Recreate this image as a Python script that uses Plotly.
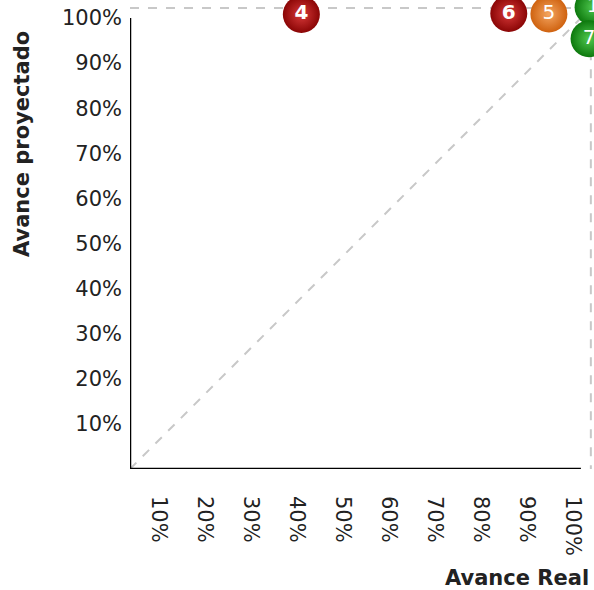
import plotly.graph_objects as go

# Project progress: real vs projected (%)
labels = ["4", "6", "5", "1", "7"]
avance_real = [38.0, 84.0, 92.9, 102.7, 101.8]
avance_proyectado = [100.8, 101.0, 100.9, 102.4, 95.4]
fill_colors = ["#8a0505", "#8a0505", "#cf620f", "#0d780d", "#0d780d"]
glow_colors = ["#d83a3a", "#d83a3a", "#f4a561", "#4fc84f", "#4fc84f"]
label_weights = ["bold", "bold", "normal", "normal", "normal"]

tick_vals = [10, 20, 30, 40, 50, 60, 70, 80, 90, 100]
tick_text = ["10%", "20%", "30%", "40%", "50%", "60%", "70%", "80%", "90%", "100%"]

frame_top = 102.2          # dashed frame at the top/right of the plot
x_range = [0, 102.9]
y_range = [0, 104.0]
font = "DejaVu Sans, Verdana, sans-serif"
grey = "#c8c8c8"

fig = go.Figure()

# reference diagonal y = x and dashed frame on top/right
fig.add_trace(go.Scatter(x=[0, frame_top], y=[0, frame_top], mode="lines",
                         line=dict(color=grey, width=2, dash="dash"),
                         hoverinfo="skip", showlegend=False))
fig.add_trace(go.Scatter(x=[0, frame_top, frame_top], y=[frame_top, frame_top, 0], mode="lines",
                         line=dict(color=grey, width=2, dash="dash"),
                         hoverinfo="skip", showlegend=False))

# black axis lines up to 100%
fig.add_trace(go.Scatter(x=[0, 0], y=[0, 100], mode="lines",
                         line=dict(color="#000000", width=2.5),
                         hoverinfo="skip", showlegend=False, cliponaxis=False))
fig.add_trace(go.Scatter(x=[0, 100], y=[0, 0], mode="lines",
                         line=dict(color="#000000", width=2.5),
                         hoverinfo="skip", showlegend=False, cliponaxis=False))

fig.add_trace(go.Scatter(
    x=avance_real, y=avance_proyectado, mode="markers+text",
    text=labels, textposition="middle center",
    textfont=dict(family=font, size=20, color="white", weight=label_weights),
    marker=dict(size=37, color=fill_colors, line=dict(width=0),
                gradient=dict(type="radial", color=glow_colors)),
    cliponaxis=False, showlegend=False))

# invisible trace carrying the x tick label axis
fig.add_trace(go.Scatter(x=[50], y=[50], xaxis="x2", mode="markers",
                         marker=dict(opacity=0), hoverinfo="skip", showlegend=False))

fig.update_layout(
    width=594, height=590,
    margin=dict(l=130, r=0, t=0, b=121),
    plot_bgcolor="white", paper_bgcolor="white",
    font=dict(family=font, color="#222222"),
    xaxis=dict(range=x_range, showgrid=False, zeroline=False, showline=False,
               showticklabels=False, fixedrange=True),
    xaxis2=dict(range=[3.7, 104.57], overlaying="x", side="bottom", anchor="y",
                tickvals=tick_vals, ticktext=tick_text, tickangle=90,
                showgrid=False, zeroline=False, showline=False, ticks="",
                ticklabelstandoff=26, tickfont=dict(family=font, size=21, color="#222222")),
    yaxis=dict(range=y_range, tickvals=tick_vals, ticktext=tick_text,
               showgrid=False, zeroline=False, showline=False, ticks="",
               ticklabelstandoff=7, tickfont=dict(family=font, size=21, color="#222222")),
    annotations=[
        dict(text="<b>Avance proyectado</b>", textangle=-90, xref="paper", yref="paper",
             x=(22 - 130) / 464, y=(469 - 144) / 469, xanchor="center", yanchor="middle",
             showarrow=False, font=dict(family=font, size=21, color="#222222")),
        dict(text="<b>Avance Real</b>", xref="paper", yref="paper",
             x=(591 - 130) / 464, y=-(578 - 469) / 469, xanchor="right", yanchor="middle",
             showarrow=False, font=dict(family=font, size=21, color="#222222")),
    ],
)

fig.write_html("out.html")
